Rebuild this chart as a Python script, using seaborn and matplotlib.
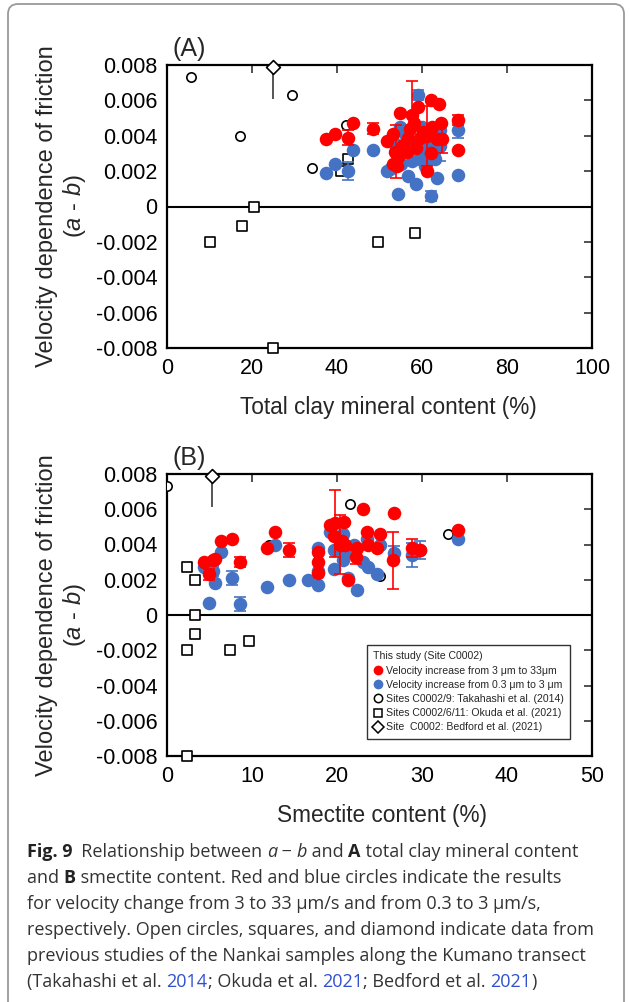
import numpy as np
import pandas as pd
import matplotlib
matplotlib.use("Agg")
import matplotlib.pyplot as plt
import seaborn as sns
from matplotlib.lines import Line2D
from matplotlib.patches import FancyBboxPatch

# ---------------- data ----------------
# Panel A: total clay mineral content (%) vs a-b
redA_x = [37.4, 39.5, 42.5, 43.8, 48.5, 51.8, 53.1, 53.8, 54.8, 57.6, 59.1, 62.0, 64.0, 58.0, 57.2, 60.3, 62.3,
          64.4, 56.8, 59.5, 61.1, 63.5, 64.6, 53.6, 54.4, 56.4, 53.2, 54.0, 61.1, 62.0, 68.4, 68.5, 55.5, 58.5]
redA_y = [0.0038, 0.0041, 0.0039, 0.0047, 0.0044, 0.0037, 0.0041, 0.0031, 0.0053, 0.0052, 0.0056, 0.0060, 0.0058,
          0.0047, 0.0044, 0.0042, 0.0045, 0.0047, 0.0039, 0.0039, 0.0040, 0.0038, 0.0038, 0.0031, 0.0028, 0.0031,
          0.0024, 0.0023, 0.0020, 0.0030, 0.0049, 0.0032, 0.0035, 0.0033]
redA_err = [0, 0, 0.0004, 0, 0.0003, 0, 0, 0.0015, 0, 0.0019, 0, 0, 0, 0, 0, 0, 0,
            0, 0, 0, 0.0017, 0, 0.0008, 0, 0, 0, 0, 0, 0, 0, 0.0003, 0, 0, 0]

blueA_x = [37.4, 39.5, 42.5, 43.8, 48.5, 51.8, 52.5, 54.4, 56.8, 58.5, 62.0, 63.6, 68.5, 68.4, 59.1, 54.8,
           64.2, 64.2, 55.6, 57.6, 59.5, 61.5, 60.7, 57.2, 53.5, 60.0, 62.5, 56.0, 58.8, 61.0, 63.0, 55.0]
blueA_y = [0.0019, 0.0024, 0.0020, 0.0032, 0.0032, 0.0020, 0.0021, 0.0007, 0.0017, 0.0013, 0.0006, 0.0016,
           0.0018, 0.0043, 0.0063, 0.0045, 0.0043, 0.0034, 0.0032, 0.0026, 0.0027, 0.0034, 0.0023, 0.0037,
           0.0036, 0.0045, 0.0038, 0.0041, 0.0035, 0.0029, 0.0027, 0.0024]
blueA_err = [0, 0, 0.0005, 0, 0, 0, 0, 0, 0, 0, 0.0003, 0, 0, 0.0004, 0.0003, 0,
             0, 0.0008, 0.0004, 0, 0, 0, 0, 0, 0, 0, 0, 0, 0, 0, 0, 0]

# Panel B: smectite content (%) vs a-b
redB_x = [4.4, 4.9, 5.4, 5.7, 6.3, 7.6, 8.6, 11.8, 12.7, 14.3, 17.8, 17.8, 17.8, 19.2, 19.8, 20.8, 19.6,
          20.6, 20.9, 20.4, 21.3, 23.0, 23.5, 23.6, 22.3, 22.2, 25.0, 24.7, 26.7, 26.6, 28.8, 29.8, 34.2]
redB_y = [0.0030, 0.0023, 0.0031, 0.0032, 0.0042, 0.0043, 0.0030, 0.0038, 0.0047, 0.0037, 0.0036, 0.0030,
          0.0024, 0.0051, 0.0052, 0.0053, 0.0045, 0.0042, 0.0040, 0.0040, 0.0020, 0.0060, 0.0047, 0.0040,
          0.0038, 0.0033, 0.0046, 0.0038, 0.0058, 0.0031, 0.0038, 0.0037, 0.0048]
redB_err = [0, 0.0003, 0, 0, 0, 0, 0.0003, 0, 0, 0.0004, 0, 0, 0, 0, 0.0019, 0, 0,
            0, 0, 0.0017, 0, 0, 0, 0, 0, 0.0004, 0, 0, 0, 0.0016, 0.0005, 0, 0]

blueB_x = [4.4, 5.4, 6.3, 5.7, 4.9, 7.6, 8.6, 11.8, 12.7, 14.3, 16.6, 17.8, 17.8, 17.8, 19.2, 19.6,
           19.6, 20.7, 20.7, 21.0, 23.0, 23.7, 24.7, 22.4, 23.5, 25.1, 26.7, 28.8, 29.8, 34.2, 21.3, 22.0]
blueB_y = [0.0027, 0.0025, 0.0036, 0.0018, 0.0007, 0.0021, 0.0006, 0.0016, 0.0040, 0.0020, 0.0020, 0.0038,
           0.0025, 0.0017, 0.0047, 0.0037, 0.0026, 0.0046, 0.0031, 0.0036, 0.0030, 0.0027, 0.0023, 0.0014,
           0.0043, 0.0040, 0.0035, 0.0034, 0.0037, 0.0043, 0.0021, 0.0040]
blueB_err = [0, 0.0003, 0, 0, 0, 0.0004, 0.0004, 0, 0, 0, 0, 0,
             0, 0, 0, 0, 0, 0, 0, 0, 0, 0, 0, 0,
             0, 0, 0.0004, 0.0007, 0.0005, 0, 0, 0]

# Previous studies
takahashi_y = [0.0073, 0.0040, 0.0063, 0.0022, 0.0046]
takahashi_clay = [5.6, 17.2, 29.4, 34.0, 42.0]
takahashi_smec = [0.0, 12.0, 21.5, 25.0, 33.0]

okuda_y = [0.0000, -0.0011, -0.0020, -0.0020, -0.0015, -0.0080, 0.0027, 0.0020]
okuda_clay = [20.5, 17.6, 10.0, 49.7, 58.4, 25.0, 42.7, 40.9]
okuda_smec = [3.3, 3.3, 2.3, 7.4, 9.6, 2.3, 2.4, 3.3]

bedford_y = [0.0079]
bedford_clay = [25.0]
bedford_smec = [5.3]
bedford_lower_err = [0.0018]

yticks = [-0.008, -0.006, -0.004, -0.002, 0.0, 0.002, 0.004, 0.006, 0.008]
ytick_labels = ["-0.008", "-0.006", "-0.004", "-0.002", "0", "0.002", "0.004", "0.006", "0.008"]
xticksA = [0, 20, 40, 60, 80, 100]
xticksB = [0, 10, 20, 30, 40, 50]

legend_title = "This study (Site C0002)"
legend_labels = ["Velocity increase from 3 \u03bcm to 33\u03bcm",
                 "Velocity increase from 0.3 \u03bcm to 3 \u03bcm",
                 "Sites C0002/9: Takahashi et al. (2014)",
                 "Sites C0002/6/11: Okuda et al. (2021)",
                 "Site  C0002: Bedford et al. (2021)"]

RED = "#FF0000"
BLUE = "#4472C4"

# ---------------- style ----------------
sns.set_theme(style="white")
plt.rcParams["font.family"] = ["Liberation Sans", "DejaVu Sans"]
plt.rcParams["mathtext.fontset"] = "custom"
plt.rcParams["mathtext.it"] = "Liberation Sans:italic"
plt.rcParams["mathtext.rm"] = "Liberation Sans"

W, H = 630, 1002
fig = plt.figure(figsize=(W / 100, H / 100), dpi=100)


def px_axes(left, top, right, bottom):
    return fig.add_axes([left / W, 1 - bottom / H, (right - left) / W, (bottom - top) / H])


# overlay for frame & caption (pixel coordinates)
ov = fig.add_axes([0, 0, 1, 1], zorder=-5)
ov.set_xlim(0, W)
ov.set_ylim(H, 0)
ov.axis("off")
ov.add_patch(FancyBboxPatch((8, 4), 616, 1030, boxstyle="round,pad=0,rounding_size=10",
                            fc="none", ec="#9a9a9a", lw=1.3))


def style_axes(ax, xticks, xlim):
    ax.set_xlim(*xlim)
    ax.set_ylim(-0.008, 0.008)
    ax.set_xticks(xticks)
    ax.set_xticklabels([str(t) for t in xticks])
    ax.set_yticks(yticks)
    ax.set_yticklabels(ytick_labels)
    ax.tick_params(direction="in", length=6, width=1.2, top=True, right=True,
                   labelsize=15.5, pad=7, color="#333333", labelcolor="black")
    for s in ax.spines.values():
        s.set_visible(True)
        s.set_color("black")
        s.set_linewidth(1.6)
    ax.axhline(0, color="black", lw=1.5, zorder=1)
    ax.set_ylabel("Velocity dependence of friction\n($a$ - $b$)", fontsize=17, va="center",
                  linespacing=1.15)
    ax.yaxis.set_label_coords(-0.246, 0.5)


def draw_panel(ax, red_x, red_y, red_err, blue_x, blue_y, blue_err, tx, ox, bx):
    # previous studies
    sns.scatterplot(x=tx, y=takahashi_y, ax=ax, marker="o", s=45, facecolor="white",
                    edgecolor="black", linewidth=1.2, zorder=3)
    sns.scatterplot(x=ox, y=okuda_y, ax=ax, marker="s", s=55, facecolor="white",
                    edgecolor="black", linewidth=1.2, zorder=3, clip_on=False)
    ax.errorbar(bx, bedford_y, yerr=[bedford_lower_err, [0]], fmt="none", ecolor="#555555",
                elinewidth=1.4, capsize=0, zorder=2)
    sns.scatterplot(x=bx, y=bedford_y, ax=ax, marker="D", s=50, facecolor="white",
                    edgecolor="black", linewidth=1.2, zorder=6, clip_on=False)
    # this study: blue then red
    be = np.array(blue_err)
    m = be > 0
    ax.errorbar(np.array(blue_x)[m], np.array(blue_y)[m], yerr=be[m], fmt="none", ecolor=BLUE,
                elinewidth=1.2, capsize=4, capthick=1.2, zorder=4)
    sns.scatterplot(x=blue_x, y=blue_y, ax=ax, marker="o", s=95, color=BLUE, linewidth=0, zorder=4)
    re = np.array(red_err)
    m = re > 0
    ax.errorbar(np.array(red_x)[m], np.array(red_y)[m], yerr=re[m], fmt="none", ecolor=RED,
                elinewidth=1.2, capsize=4, capthick=1.2, zorder=5)
    sns.scatterplot(x=red_x, y=red_y, ax=ax, marker="o", s=95, color=RED, linewidth=0, zorder=5)


axA = px_axes(167, 65, 592, 348)
draw_panel(axA, redA_x, redA_y, redA_err, blueA_x, blueA_y, blueA_err,
           takahashi_clay, okuda_clay, bedford_clay)
style_axes(axA, xticksA, (0, 100))
axA.set_xlabel("Total clay mineral content (%)", fontsize=16.3)
axA.xaxis.set_label_coords(0.522, -0.209)
axA.xaxis.label.set_va("center")
axA.text(0.012, 1.015, "(A)", transform=axA.transAxes, fontsize=18, ha="left", va="bottom")

axB = px_axes(167, 474, 592, 756)
draw_panel(axB, redB_x, redB_y, redB_err, blueB_x, blueB_y, blueB_err,
           takahashi_smec, okuda_smec, bedford_smec)
style_axes(axB, xticksB, (0, 50))
axB.set_xlabel("Smectite content (%)", fontsize=16.3)
axB.xaxis.set_label_coords(0.505, -0.21)
axB.xaxis.label.set_va("center")
axB.text(0.012, 1.015, "(B)", transform=axB.transAxes, fontsize=18, ha="left", va="bottom")

handles = [
    Line2D([], [], ls="", marker="o", markersize=7, markerfacecolor=RED, markeredgewidth=0),
    Line2D([], [], ls="", marker="o", markersize=7, markerfacecolor=BLUE, markeredgewidth=0),
    Line2D([], [], ls="", marker="o", markersize=6, markerfacecolor="white", markeredgecolor="black",
           markeredgewidth=1.1),
    Line2D([], [], ls="", marker="s", markersize=6, markerfacecolor="white", markeredgecolor="black",
           markeredgewidth=1.1),
    Line2D([], [], ls="", marker="D", markersize=6, markerfacecolor="white", markeredgecolor="black",
           markeredgewidth=1.1),
]
leg = axB.legend(handles, legend_labels, title=legend_title, loc="upper left",
                 bbox_to_anchor=((367 - 167) / 425, (756 - 645) / 282), borderaxespad=0,
                 fontsize=7.6, title_fontsize=7.6, frameon=True, fancybox=False, framealpha=1,
                 edgecolor="#333333", handlelength=0.8, handletextpad=0.4, labelspacing=0.4,
                 borderpad=0.6, alignment="left")
leg.get_frame().set_linewidth(1.0)

# ---------------- caption ----------------
CAP_FONT = ["Open Sans", "DejaVu Sans"]
CAP_SIZE = 13.0
LINK = "#3050d0"
caption_lines = [
    [("Fig. 9", "bold", "normal", "#222222"), ("  Relationship between ", "normal", "normal", "#333333"),
     ("a", "normal", "italic", "#333333"), (" \u2212 ", "normal", "normal", "#333333"),
     ("b", "normal", "italic", "#333333"), (" and ", "normal", "normal", "#333333"),
     ("A", "bold", "normal", "#222222"), (" total clay mineral content", "normal", "normal", "#333333")],
    [("and ", "normal", "normal", "#333333"), ("B", "bold", "normal", "#222222"),
     (" smectite content. Red and blue circles indicate the results", "normal", "normal", "#333333")],
    [("for velocity change from 3 to 33 \u03bcm/s and from 0.3 to 3 \u03bcm/s,", "normal", "normal", "#333333")],
    [("respectively. Open circles, squares, and diamond indicate data from", "normal", "normal", "#333333")],
    [("previous studies of the Nankai samples along the Kumano transect", "normal", "normal", "#333333")],
    [("(Takahashi et al. ", "normal", "normal", "#333333"), ("2014", "normal", "normal", LINK),
     ("; Okuda et al. ", "normal", "normal", "#333333"), ("2021", "normal", "normal", LINK),
     ("; Bedford et al. ", "normal", "normal", "#333333"), ("2021", "normal", "normal", LINK),
     (")", "normal", "normal", "#333333")],
]
cap_y = [852, 878, 904, 930, 956, 982]
renderer = fig.canvas.get_renderer()
for y, runs in zip(cap_y, caption_lines):
    x = 27
    for txt, wt, st, col in runs:
        t = ov.text(x, y, txt, fontsize=CAP_SIZE, fontweight=wt, fontstyle=st, color=col,
                    family=CAP_FONT, ha="left", va="center")
        x += t.get_window_extent(renderer=renderer).width

fig.savefig("out.png", dpi=100)
